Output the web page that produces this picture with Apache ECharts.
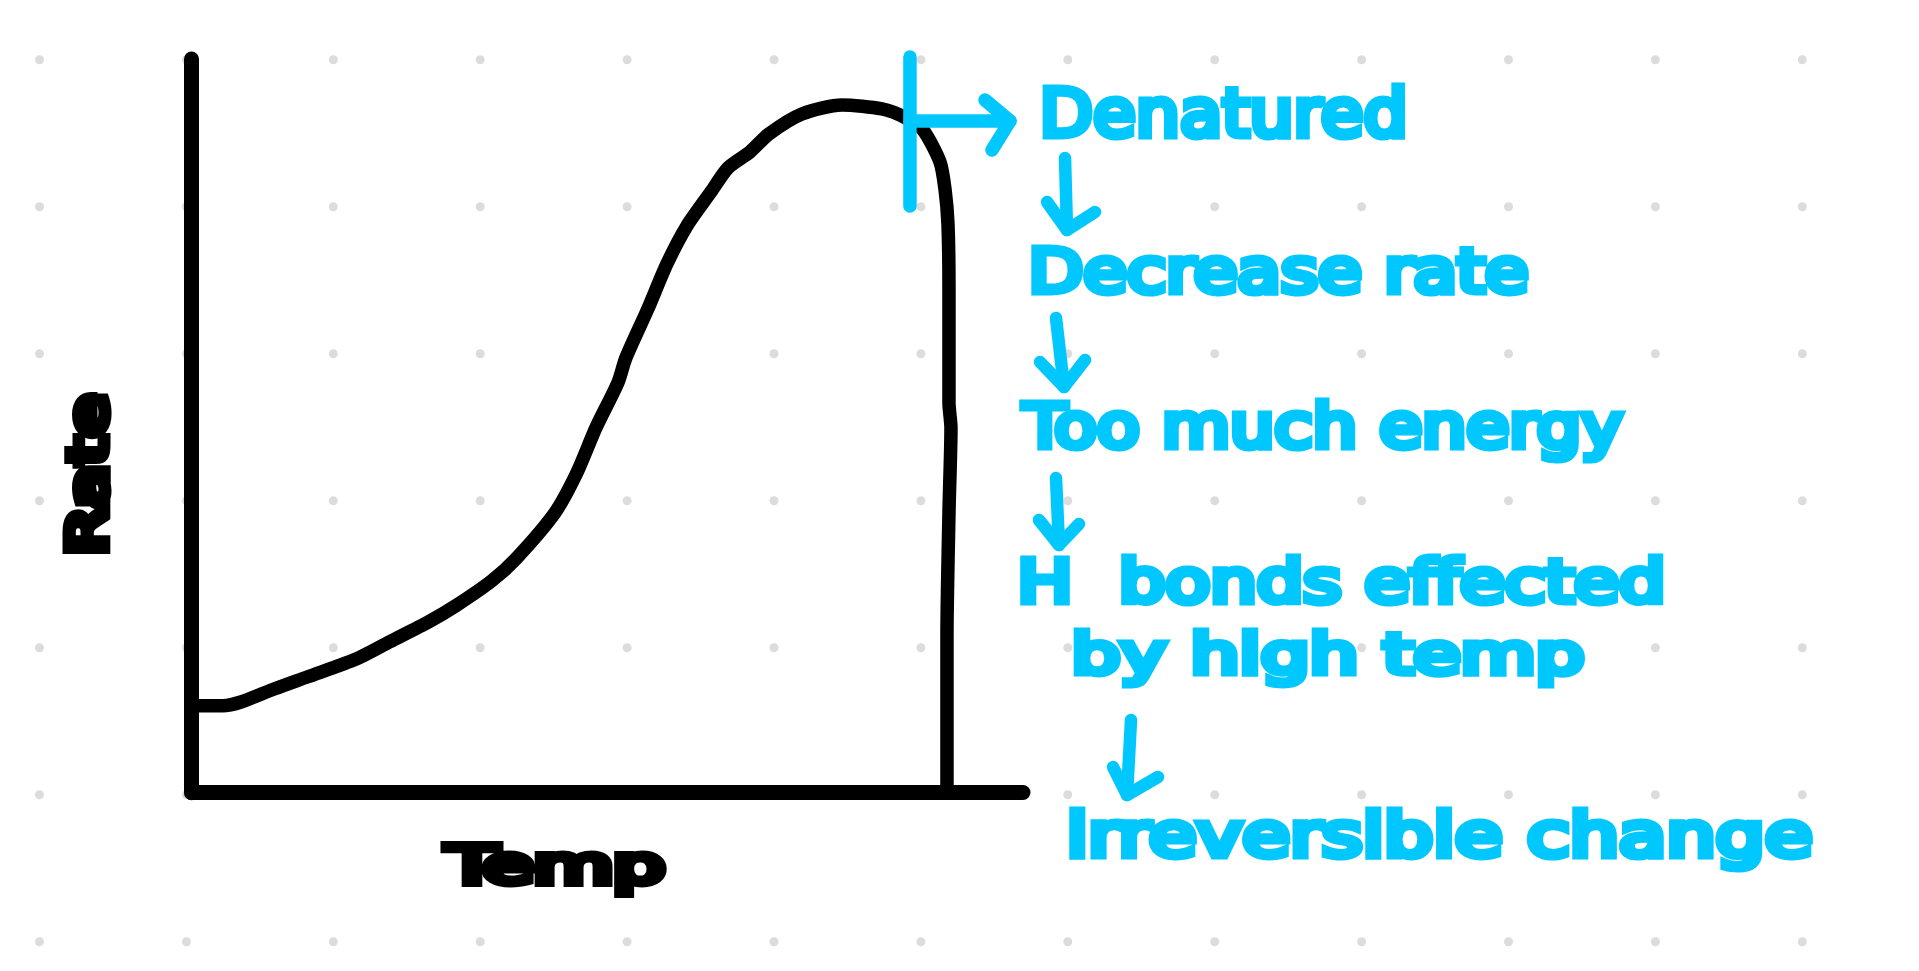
<!DOCTYPE html>
<html>
<head>
<meta charset="utf-8">
<style>html,body{margin:0;padding:0;background:#fff;overflow:hidden}#c{width:1919px;height:971px}</style>
<script src="https://cdn.jsdelivr.net/npm/echarts@6/dist/echarts.min.js"></script>
</head>
<body>
<div id="c"></div>
<script>
// Values (temp, rate in arbitrary sketch units)
const rateCurve = [[0,87],[31,87],[50,91],[83,104],[116,116],[165,134],[198,151],[237,171],[264,187],[300,212],[325,235],[363,280],[385,320],[404,365],[426,410],[434,435],[456,484],[475,529],[495,567],[519,601],[536,625],[558,641],[577,659],[610,679],[650,688],[690,684],[714,675],[731,663],[748,631],[753,604],[756,569],[757,504],[757,390],[759,365],[757,280],[755,156],[755,0]];
const denatureMarker = [[718,736],[718,587]];
const denatureShaft = [[718,672],[818,672]];
const denatureHead = [[793,693],[818,672],[800,643]];
// flow arrows live on the full-page note axes (x right, y down)
const flowArrows = [
  [[1065,158],[1067,230]], [[1047,202],[1067,230],[1095,212]],
  [[1056,318],[1064,387]], [[1040,362],[1064,387],[1085,360]],
  [[1056,478],[1059,545]], [[1039,520],[1059,545],[1079,524]],
  [[1131,720],[1127,795]], [[1113,767],[1127,795],[1158,777]]
];
const flowLabels = ["Denatured","Decrease rate","Too much energy","H  bonds effected","by high temp","irreversible change"];
const axisLabels = {x:"Temp", y:"Rate"};
const dotCols = [0,1,2,3,4,5,6,7,8,9,10,11,12];
const dotRows = [0,1,2,3,4,5,6];

const BLUE = "#00c8ff";
const FONT = '"DejaVu Sans"';
const dots = [];
dotCols.forEach(c => dotRows.forEach(r => dots.push([c,r])));

const mctx = document.createElement("canvas").getContext("2d");
function fitText(text, left, right, baseline, size, color, lw) {
  mctx.font = size + "px " + FONT;
  const w = mctx.measureText(text).width;
  return {type:"text", z:6, silent:true, x:left+lw/2+1, y:baseline-0.8*size,
    scaleX:(right-left-lw-2)/w, scaleY:1,
    style:{text, fontFamily:"DejaVu Sans", fontSize:size, fill:color, stroke:color, lineWidth:lw, lineJoin:"round",
      textAlign:"left", textVerticalAlign:"top"}};
}
const rateLabel = fitText(axisLabels.y, 0, 172, 0, 54, "#000", 9);
rateLabel.x = 108-0.8*54; rateLabel.y = 555; rateLabel.rotation = Math.PI/2;

const strokeSeries = (data, color, width, z, smooth, ax) => ({
  type:"line", xAxisIndex:ax||0, yAxisIndex:ax||0, data, clip:false, showSymbol:false, symbol:"none", smooth:smooth||false,
  z, silent:true, lineStyle:{color, width, cap:"round", join:"round"}
});

const chart = echarts.init(document.getElementById("c"), null, {renderer:"canvas"});
chart.setOption({
  animation:false,
  backgroundColor:"#fff",
  grid:[
    {left:191.7, top:59, width:831.3, height:733.7},
    {left:39.5, top:59.7, width:1762.8, height:882},
    {left:0, top:0, width:1919, height:971}
  ],
  xAxis:[
    {type:"value", gridIndex:0, min:0, max:831, z:3, axisLine:{show:true, onZero:false, lineStyle:{color:"#000", width:15}}, axisTick:{show:false}, axisLabel:{show:false}, splitLine:{show:false}},
    {type:"value", gridIndex:1, min:0, max:12, show:false},
    {type:"value", gridIndex:2, min:0, max:1919, show:false}
  ],
  yAxis:[
    {type:"value", gridIndex:0, min:0, max:734, z:3, axisLine:{show:true, onZero:false, lineStyle:{color:"#000", width:15}}, axisTick:{show:false}, axisLabel:{show:false}, splitLine:{show:false}},
    {type:"value", gridIndex:1, min:0, max:6, show:false},
    {type:"value", gridIndex:2, min:0, max:971, inverse:true, show:false}
  ],
  series:[
    {type:"scatter", xAxisIndex:1, yAxisIndex:1, data:dots, symbolSize:9, z:1, silent:true, itemStyle:{color:"#d3d3d3"}},
    strokeSeries(rateCurve, "#000", 13.5, 2, 0.25),
    strokeSeries(denatureMarker, BLUE, 13.5, 4),
    strokeSeries(denatureShaft, BLUE, 13.5, 4),
    strokeSeries(denatureHead, BLUE, 13.5, 4)
  ].concat(flowArrows.map(a => strokeSeries(a, BLUE, 12.5, 4, false, 2))),
  graphic:[
    fitText(flowLabels[0], 1035, 1412, 139, 66, BLUE, 7),
    fitText(flowLabels[1], 1024, 1533, 294, 60, BLUE, 7),
    fitText(flowLabels[2], 1019, 1627, 449, 60, BLUE, 7),
    fitText(flowLabels[3], 1013, 1670, 604, 58, BLUE, 7),
    fitText(flowLabels[4], 1067, 1589, 675, 56, BLUE, 7),
    fitText(flowLabels[5], 1062, 1817, 858, 60, BLUE, 7),
    fitText(axisLabels.x, 442, 670, 885, 52, "#000", 8),
    rateLabel
  ]
});
</script>
</body>
</html>
